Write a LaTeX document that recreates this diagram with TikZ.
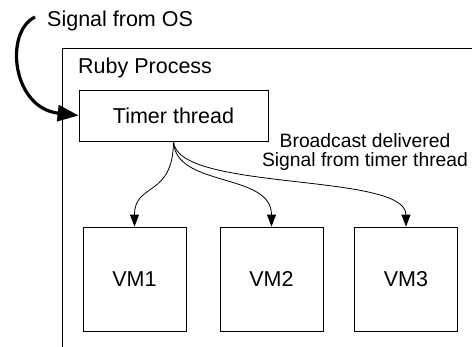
\documentclass[tikz,border=0pt]{standalone}
\usepackage{fontspec}
\setmainfont{Liberation Sans}
\usetikzlibrary{arrows.meta}
\begin{document}
\begin{tikzpicture}[x=1pt,y=-1pt,
  box/.style={draw,line width=0.8pt,inner sep=0pt,font=\fontsize{21.5}{24}\selectfont},
  lbl/.style={inner sep=0pt,font=\fontsize{21.5}{24}\selectfont},
  thin arrow/.style={draw,line width=0.8pt,-{Triangle[length=12pt,width=9pt]}},
  thick arrow/.style={draw,line width=3.2pt,-{Triangle[length=21pt,width=16pt]}}]
\useasboundingbox (0,0) rectangle (472,346);
% Ruby process frame
\draw[line width=0.8pt] (62,360) -- (62,48) -- (480,48);
\node[lbl,anchor=base west] (ruby) at (78,73) {Ruby Process};
\node[lbl,anchor=base west] (os) at (47,26) {Signal from OS};
\node[box,minimum width=189pt,minimum height=51pt] (timer) at (173.5,115.5) {Timer thread};
\node[box,minimum width=103pt,minimum height=104pt] (vm1) at (134.5,279) {VM1};
\node[box,minimum width=103pt,minimum height=104pt] (vm2) at (271.5,279) {VM2};
\node[box,minimum width=103pt,minimum height=104pt] (vm3) at (406,279) {VM3};
\node[lbl,align=center,font=\fontsize{19.3}{19}\selectfont,anchor=base] (bc) at (365,166) {Broadcast delivered\\Signal from timer thread};
\coordinate (osstart) at (35,17);
\draw[thick arrow] (osstart) .. controls (4,32) and (12,108) .. (timer.west);
\draw[thin arrow] (timer.south) .. controls (173,198) and (134.5,182) .. (vm1.north);
\draw[thin arrow] (timer.south) .. controls (175,188) and (271.5,172) .. (vm2.north);
\draw[thin arrow] (timer.south) .. controls (176,192) and (406,172) .. (vm3.north);
\end{tikzpicture}
\end{document}
